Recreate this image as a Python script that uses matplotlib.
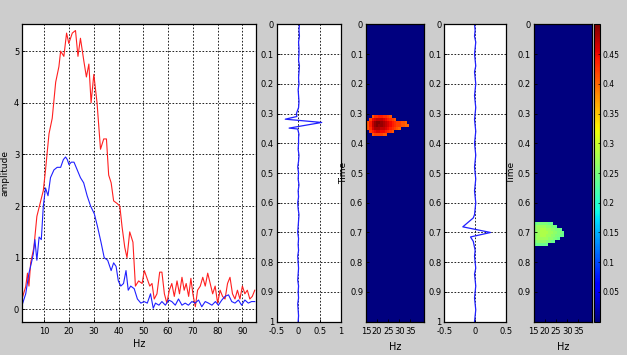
import numpy as np
import matplotlib.pyplot as plt

# amplitude spectra (Hz, amplitude)
red_hz = [1.3, 2.5, 3.2, 3.8, 4.5, 5.8, 7.0, 8.3, 9.6, 10.5, 11.9, 13.2, 14.6, 15.9, 16.6,
          17.9, 19.0, 19.9, 21.3, 22.6, 23.6, 24.6, 26.0, 27.0, 28.0, 28.9, 30.0, 31.3,
          32.7, 34.0, 35.1, 36.0, 37.0, 38.0, 39.4, 40.5, 41.4, 42.5, 43.4, 44.5, 45.8,
          46.8, 48.1, 49.5, 50.4, 51.5, 52.6, 53.5, 54.4, 55.5, 56.6, 57.5, 58.5, 59.5,
          60.5, 61.5, 62.5, 63.6, 64.6, 65.6, 66.5, 67.3, 68.3, 69.2, 70.0, 71.0, 71.9,
          73.0, 74.0, 75.0, 76.0, 77.0, 78.0, 79.0, 80.0, 81.0, 82.0, 83.0, 84.0, 85.0,
          86.0, 87.0, 88.0, 89.0, 90.0, 91.0, 92.0, 93.0, 94.0, 95.0]
red_amp = [0.25, 0.44, 0.70, 0.45, 0.90, 1.20, 1.80, 2.05, 2.30, 2.70, 3.40, 3.70, 4.40, 4.70, 5.00,
           4.90, 5.35, 5.15, 5.35, 5.40, 4.90, 5.25, 4.80, 4.50, 4.75, 4.00, 4.55, 4.00,
           3.10, 3.30, 3.30, 2.60, 2.45, 2.10, 2.05, 2.00, 1.60, 1.20, 1.00, 1.50, 1.30,
           0.45, 0.55, 0.50, 0.75, 0.60, 0.45, 0.50, 0.20, 0.30, 0.72, 0.72, 0.30, 0.12,
           0.37, 0.50, 0.25, 0.55, 0.30, 0.62, 0.37, 0.50, 0.25, 0.60, 0.30, 0.05, 0.37,
           0.45, 0.62, 0.45, 0.70, 0.50, 0.30, 0.45, 0.12, 0.37, 0.25, 0.20, 0.50, 0.62,
           0.30, 0.20, 0.37, 0.20, 0.45, 0.30, 0.37, 0.20, 0.25, 0.37]
blue_hz = [1.3, 2.5, 3.8, 4.8, 5.6, 6.2, 7.0, 7.9, 8.8, 9.6, 10.5, 11.5, 12.5, 13.9, 15.2,
           16.6, 17.7, 18.6, 19.3, 20.0, 20.9, 22.0, 23.3, 24.6, 25.9, 27.3, 28.7, 30.2,
           31.5, 32.9, 34.2, 35.6, 37.0, 38.0, 39.0, 39.9, 40.9, 42.0, 43.0, 43.9, 44.9,
           46.3, 47.6, 49.0, 50.3, 51.6, 52.9, 54.0, 54.9, 56.3, 57.5, 58.9, 60.2, 61.5,
           62.9, 64.2, 65.6, 66.9, 68.2, 69.6, 70.9, 72.3, 73.6, 75.0, 76.3, 77.7, 79.1,
           80.3, 81.7, 83.0, 84.4, 85.7, 87.0, 88.4, 89.7, 91.0, 92.4, 93.7, 95.0]
blue_amp = [0.12, 0.30, 0.70, 0.90, 1.08, 1.35, 0.95, 1.40, 1.35, 2.00, 2.35, 2.20, 2.55, 2.70, 2.75,
            2.75, 2.90, 2.95, 2.90, 2.80, 2.85, 2.85, 2.70, 2.55, 2.45, 2.20, 2.00, 1.85,
            1.60, 1.30, 1.00, 0.95, 0.75, 0.90, 0.83, 0.55, 0.45, 0.50, 0.75, 0.37, 0.45,
            0.40, 0.20, 0.12, 0.15, 0.12, 0.30, 0.02, 0.12, 0.08, 0.15, 0.08, 0.18, 0.15,
            0.08, 0.20, 0.08, 0.12, 0.08, 0.15, 0.12, 0.18, 0.05, 0.15, 0.12, 0.08, 0.15,
            0.08, 0.18, 0.25, 0.28, 0.15, 0.12, 0.18, 0.08, 0.18, 0.12, 0.15, 0.15]

# seismic traces (time, amplitude)
trace1_t = [0.00, 0.02, 0.04, 0.06, 0.08, 0.10, 0.12, 0.14, 0.16, 0.18, 0.20, 0.22, 0.24, 0.26,
            0.28, 0.30, 0.31, 0.319, 0.33, 0.349, 0.352, 0.37, 0.38, 0.40, 0.42, 0.44, 0.46,
            0.48, 0.50, 0.52, 0.54, 0.56, 0.58, 0.60, 0.62, 0.64, 0.66, 0.68, 0.70, 0.72,
            0.74, 0.76, 0.78, 0.80, 0.82, 0.84, 0.86, 0.88, 0.90, 0.92, 0.94, 0.96, 0.98, 1.00]
trace1_a = [0.03, 0.02, 0.03, 0.01, 0.02, 0.02, 0.01, 0.03, 0.02, 0.01, 0.02, 0.00, 0.01, 0.02,
            0.01, -0.04, -0.03, -0.30, 0.55, -0.21, -0.01, 0.02, 0.01, 0.01, 0.00, 0.02, 0.01,
            -0.01, 0.01, 0.00, 0.02, 0.00, 0.01, -0.01, 0.00, 0.02, 0.01, 0.00, -0.01, 0.01,
            0.00, 0.01, -0.01, 0.00, 0.01, 0.00, -0.01, 0.01, 0.00, 0.01, -0.01, 0.00, 0.01, 0.00]
trace2_t = [0.00, 0.02, 0.04, 0.06, 0.08, 0.10, 0.12, 0.14, 0.16, 0.18, 0.20, 0.22, 0.24, 0.26,
            0.28, 0.30, 0.32, 0.34, 0.36, 0.38, 0.40, 0.42, 0.44, 0.46, 0.48, 0.50, 0.52,
            0.54, 0.56, 0.58, 0.60, 0.62, 0.64, 0.651, 0.681, 0.70, 0.715, 0.73, 0.76, 0.78,
            0.80, 0.82, 0.84, 0.86, 0.88, 0.90, 0.92, 0.94, 0.96, 0.98, 1.00]
trace2_a = [-0.01, 0.00, -0.01, 0.01, 0.00, -0.01, 0.00, 0.01, -0.01, 0.00, 0.01, 0.00, -0.01,
            0.00, 0.01, 0.00, -0.01, 0.00, 0.01, 0.00, -0.01, 0.00, 0.01, 0.00, -0.01, 0.00,
            0.01, 0.00, -0.01, 0.00, 0.01, 0.00, -0.01, -0.03, -0.20, 0.25, -0.075, -0.03,
            0.00, -0.01, 0.00, 0.01, -0.01, 0.00, 0.01, 0.00, -0.01, 0.00, 0.01, 0.00, -0.01]

# time-frequency maps (values in hundredths)
map_time = np.round(np.arange(0, 1.001, 0.01), 2)
map_hz = np.arange(15, 42)
blob1_t0, blob1_f0 = 0.31, 16
blob1 = [[0, 0, 41, 43, 43, 44, 44, 43, 43, 42, 41, 0, 0, 0, 0, 0, 0, 0, 0, 0],
         [0, 42, 45, 46, 47, 47, 47, 46, 45, 44, 43, 42, 41, 0, 0, 0, 0, 0, 0, 0],
         [41, 44, 47, 49, 50, 50, 49, 48, 47, 46, 45, 44, 43, 42, 42, 41, 41, 40, 0, 0],
         [41, 44, 47, 49, 50, 49, 49, 48, 47, 46, 45, 44, 43, 42, 42, 41, 41, 40, 40, 0],
         [41, 43, 46, 48, 48, 48, 47, 47, 46, 45, 44, 43, 42, 41, 40, 0, 0, 0, 0, 0],
         [0, 42, 44, 45, 46, 46, 45, 45, 44, 43, 42, 41, 0, 0, 0, 0, 0, 0, 0, 0],
         [0, 0, 41, 42, 42, 42, 42, 41, 41, 0, 0, 0, 0, 0, 0, 0, 0, 0, 0, 0]]
blob2_t0, blob2_f0 = 0.67, 15
blob2 = [[0, 24, 25, 25, 25, 25, 25, 24, 24, 0, 0, 0, 0, 0, 0, 0],
         [24, 26, 27, 27, 27, 27, 26, 26, 25, 25, 24, 0, 0, 0, 0, 0],
         [25, 26, 27, 28, 28, 28, 27, 27, 26, 26, 25, 25, 24, 0, 0, 0],
         [25, 26, 27, 28, 28, 28, 28, 27, 27, 26, 26, 25, 25, 24, 0, 0],
         [25, 26, 27, 28, 28, 28, 27, 27, 26, 26, 25, 25, 24, 24, 0, 0],
         [24, 26, 27, 27, 27, 27, 27, 26, 26, 25, 25, 24, 0, 0, 0, 0],
         [24, 25, 26, 26, 26, 26, 25, 25, 24, 24, 0, 0, 0, 0, 0, 0],
         [0, 24, 24, 24, 24, 24, 24, 0, 0, 0, 0, 0, 0, 0, 0, 0]]
cbar_ticks = [0.05, 0.1, 0.15, 0.2, 0.25, 0.3, 0.35, 0.4, 0.45]


def make_map(blob, t0, f0):
    m = np.zeros((len(map_time), len(map_hz)))
    r0 = int(np.where(np.isclose(map_time, t0))[0][0])
    c0 = int(np.where(map_hz == f0)[0][0])
    b = np.array(blob) / 100.0
    m[r0:r0 + b.shape[0], c0:c0 + b.shape[1]] = b
    return m


plt.rcParams['font.size'] = 6
plt.rcParams['font.family'] = 'DejaVu Sans'
grid_kw = dict(color='black', linestyle=(0, (2, 2)), linewidth=0.6)
bg = '#cdcdcd'

fig = plt.figure(figsize=(6.27, 3.55), dpi=100, facecolor=bg)
bottom, height = 0.0938, 0.8377


def style(ax):
    ax.tick_params(direction='in', length=2, width=0.6, pad=2, labelsize=6)
    ax.tick_params(axis='x', pad=4)
    for s in ax.spines.values():
        s.set_linewidth(0.9)


# spectrum
ax = fig.add_axes([0.0351, bottom, 0.3732, height])
ax.plot(red_hz, red_amp, color='#ff2020', lw=0.8)
ax.plot(blue_hz, blue_amp, color='#2020ff', lw=0.8)
ax.set_xlim(1, 95.5)
ax.set_ylim(-0.24, 5.52)
ax.set_xticks(range(10, 100, 10))
ax.set_yticks(range(0, 6))
ax.grid(True, **grid_kw)
ax.set_xlabel('Hz', fontsize=7, labelpad=2)
ax.set_ylabel('amplitude', fontsize=6.5, labelpad=3)
style(ax)


def trace_axes(left, width, t, a, xlim, xticks, xlabels):
    tx = fig.add_axes([left, bottom, width, height])
    tx.plot(a, t, color='#2020ff', lw=0.9)
    tx.set_xlim(*xlim)
    tx.set_ylim(1, 0)
    tx.set_xticks(xticks)
    tx.set_xticklabels(xlabels)
    tx.set_yticks(np.round(np.arange(0, 1.01, 0.1), 1))
    tx.set_yticklabels(['0'] + ['%.1f' % v for v in np.arange(0.1, 0.95, 0.1)] + ['1'])
    tx.grid(True, **grid_kw)
    style(tx)
    return tx


def map_axes(left, width, m):
    mx = fig.add_axes([left, bottom, width, height])
    im = mx.imshow(m, cmap='jet', vmin=0, vmax=0.5, aspect='auto', interpolation='nearest',
                   extent=[map_hz[0] - 0.5, map_hz[-1] + 0.5, 1.005, -0.005])
    mx.set_xlim(15, 41)
    mx.set_ylim(1, 0)
    mx.set_xticks([15, 20, 25, 30, 35])
    mx.set_yticks(np.round(np.arange(0, 0.95, 0.1), 1))
    mx.set_yticklabels(['0'] + ['%.1f' % v for v in np.arange(0.1, 0.95, 0.1)])
    mx.set_xlabel('Hz', fontsize=7, labelpad=4)
    mx.set_ylabel('Time', fontsize=6.5, labelpad=1)
    style(mx)
    return im


trace_axes(0.4413, 0.1026, trace1_t, trace1_a, (-0.5, 1), [-0.5, 0, 0.5, 1], ['-0.5', '0', '0.5', '1'])
map_axes(0.5837, 0.0920, make_map(blob1, blob1_t0, blob1_f0))
trace_axes(0.7086, 0.0984, trace2_t, trace2_a, (-0.5, 0.5), [-0.5, 0, 0.5], ['-0.5', '0', '0.5'])
im = map_axes(0.8512, 0.0925, make_map(blob2, blob2_t0, blob2_f0))

cax = fig.add_axes([0.9478, bottom, 0.0096, height])
cb = fig.colorbar(im, cax=cax, ticks=cbar_ticks)
cb.ax.set_yticklabels(['%g' % v for v in cbar_ticks])
cb.ax.tick_params(direction='in', length=1.5, width=0.5, labelsize=5.5, pad=1.5)
cb.outline.set_linewidth(0.8)

fig.savefig('out.png', dpi=100, facecolor=bg)
